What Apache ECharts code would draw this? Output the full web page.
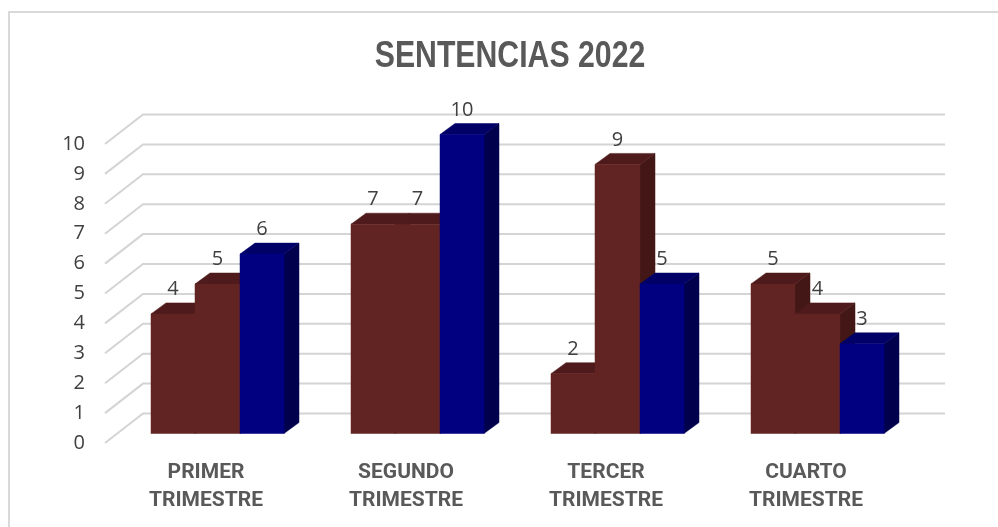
<!DOCTYPE html>
<html><head><meta charset="utf-8">
<style>html,body{margin:0;padding:0;background:#fff;overflow:hidden}#c{width:998px;height:527px}</style>
<script src="https://cdn.jsdelivr.net/npm/echarts@6/dist/echarts.min.js"></script>
</head><body><div id="c"></div>
<script>
const titleText = 'SENTENCIAS 2022';
const categories = ['PRIMER\nTRIMESTRE','SEGUNDO\nTRIMESTRE','TERCER\nTRIMESTRE','CUARTO\nTRIMESTRE'];
const ticks = [0,1,2,3,4,5,6,7,8,9,10];
const seriesA = [4,7,2,5];
const seriesB = [5,7,9,4];
const seriesC = [6,10,5,3];

const wallDX = 38, wallDY = -29.5;
const barDX = 12.5, barDY = -9.5;
const depthDX = 15, depthDY = -11;
const barRatio = 44.5/200;
const GRID = '#d4d4d4';
const numFont = '"Open Sans", sans-serif';
const narrowFont = 'Roboto, "Liberation Sans", sans-serif';

function poly(points, fill){
  return {type:'polygon', shape:{points}, style:{fill, stroke:fill, lineWidth:0.5}};
}
function barRenderer(idx, front, top, side){
  return function(params, api){
    const cat = api.value(0), val = api.value(1);
    const band = api.size([1,0])[0];
    const w = band*barRatio;
    const c = api.coord([cat, val]);
    const b = api.coord([cat, 0]);
    const x0 = Math.round(c[0] - 1.5*w + idx*w + barDX);
    const x1 = Math.round(c[0] - 1.5*w + (idx+1)*w + barDX);
    const yt = c[1] + barDY, yb = b[1] + barDY;
    return {type:'group', children:[
      poly([[x1,yt],[x1+depthDX,yt+depthDY],[x1+depthDX,yb+depthDY],[x1,yb]], side),
      poly([[x0,yt],[x0+depthDX,yt+depthDY],[x1+depthDX,yt+depthDY],[x1,yt]], top),
      poly([[x0,yt],[x1,yt],[x1,yb],[x0,yb]], front),
      {type:'text', z2:10, style:{text:String(val), x:(x0+x1)/2, y:yt-24.5, align:'center', verticalAlign:'middle',
        font:'20px '+numFont, fill:'#404040'}}
    ]};
  };
}
function barSeries(name, data, idx, front, top, side){
  return {type:'custom', name, coordinateSystem:'cartesian2d', z:5+idx,
    data:data.map((v,i)=>[i,v]), encode:{x:0,y:1}, renderItem:barRenderer(idx,front,top,side)};
}
const option = {
  animation:false,
  backgroundColor:'#fff',
  graphic:[
    {type:'rect', shape:{x:9,y:12,width:1100,height:600}, style:{fill:'none',stroke:'#d9d9d9',lineWidth:2}, silent:true, z:-1},
    {type:'text', x:510, y:57, scaleX:0.84, z:10, silent:true,
      style:{text:titleText, align:'center', verticalAlign:'middle',
        font:'bold 36px "Liberation Sans", Arial, sans-serif', fill:'#595959'}}
  ],
  grid:{left:105, right:93, top:144, bottom:84, containLabel:false},
  xAxis:{type:'category', data:categories, axisLine:{show:false}, axisTick:{show:false},
    axisLabel:{fontFamily:narrowFont, fontWeight:'bold', fontSize:21, lineHeight:28, color:'#595959', margin:16, interval:0, padding:[0,0,0,2]}},
  yAxis:{type:'value', min:0, max:10, interval:1, axisLine:{show:false}, axisTick:{show:false}, splitLine:{show:false},
    axisLabel:{fontFamily:numFont, fontSize:20, color:'#404040', margin:20, padding:[7,0,0,0]}},
  series:[
    {type:'custom', name:'grid', coordinateSystem:'cartesian2d', z:1, silent:true,
      data:ticks.map(t=>[0,t]), encode:{x:0,y:1},
      renderItem(params, api){
        const p = api.coord([0, api.value(1)]);
        const cs = params.coordSys;
        const xf = cs.x, y = p[1];
        return {type:'polyline', shape:{points:[[xf,y],[xf+wallDX,y+wallDY],[xf+cs.width+wallDX+2,y+wallDY]]},
          style:{stroke:GRID, lineWidth:2, fill:'none'}};
      }},
    barSeries('A', seriesA, 0, '#622423', '#4f1a1b', '#431715'),
    barSeries('B', seriesB, 1, '#622423', '#4f1a1b', '#431715'),
    barSeries('C', seriesC, 2, '#000080', '#000066', '#00004d')
  ]
};
echarts.init(document.getElementById('c')).setOption(option);
</script></body></html>
